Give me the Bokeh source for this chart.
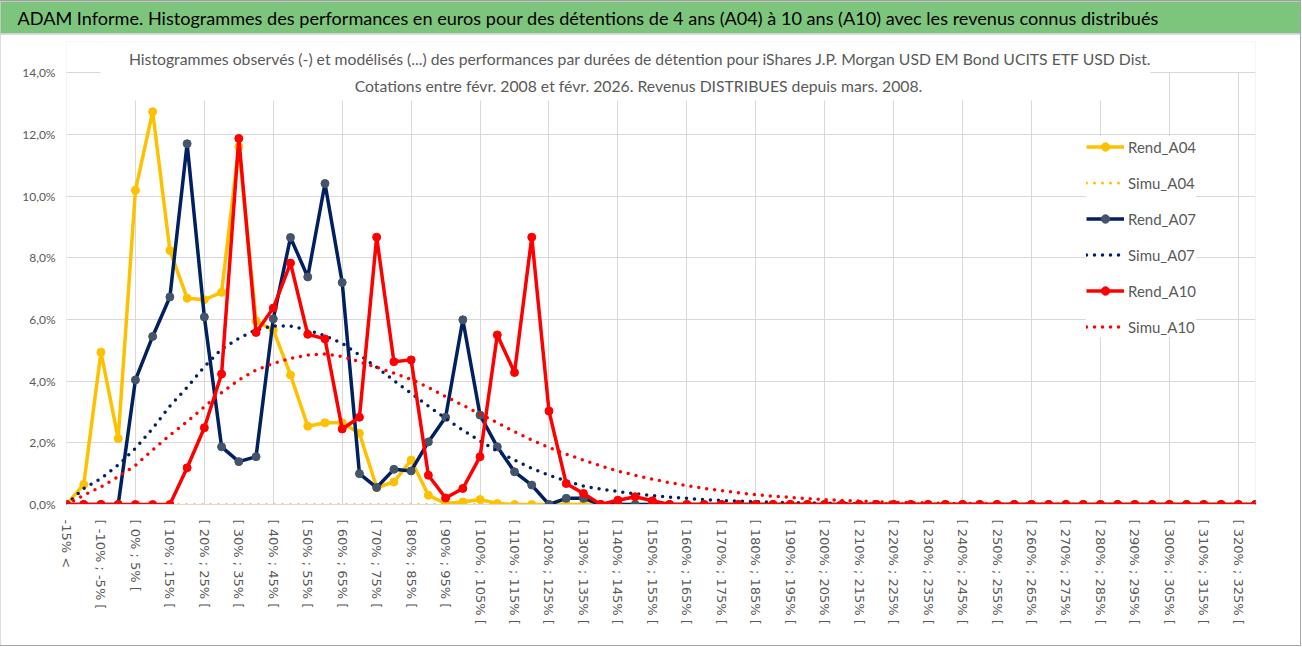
from bokeh.plotting import figure
from bokeh.layouts import column
from bokeh.models import (Label, BoxAnnotation, Legend, LegendItem, FixedTicker,
                          Range1d, ColumnDataSource, Title)
from bokeh.embed import file_html
from bokeh.resources import INLINE

# ---------------- data ----------------
categories = ["-15% <"] + ["[ %d%% ; %d%% [" % (5 * i - 20, 5 * i - 15) for i in range(1, 70)]

rend_a04 = [0.0, 0.65, 4.94, 2.14, 10.19, 12.74, 8.24, 6.69, 6.64, 6.88,
            11.6, 5.95, 5.66, 4.2, 2.54, 2.65, 2.65, 2.31, 0.55, 0.73,
            1.44, 0.3, 0.03, 0.08, 0.16, 0.03, 0, 0, 0, 0,
            0, 0, 0, 0, 0, 0, 0, 0, 0, 0,
            0, 0, 0, 0, 0, 0, 0, 0, 0, 0,
            0, 0, 0, 0, 0, 0, 0, 0, 0, 0,
            0, 0, 0, 0, 0, 0, 0, 0, 0, 0]

simu_a04 = [0.0] * 70

rend_a07 = [0, 0, 0, 0, 4.04, 5.45, 6.73, 11.7, 6.08, 1.87,
            1.39, 1.55, 6.02, 8.66, 7.38, 10.41, 7.2, 1.0, 0.55, 1.14,
            1.09, 2.03, 2.83, 5.99, 2.9, 1.87, 1.06, 0.63, 0.0, 0.2,
            0.2, 0, 0, 0, 0, 0, 0, 0, 0, 0,
            0, 0, 0, 0, 0, 0, 0, 0, 0, 0,
            0, 0, 0, 0, 0, 0, 0, 0, 0, 0,
            0, 0, 0, 0, 0, 0, 0, 0, 0, 0]

simu_a07 = [0, 0.52, 0.84, 1.28, 1.82, 2.47, 3.19, 3.8, 4.47, 5.04,
            5.39, 5.66, 5.79, 5.79, 5.66, 5.47, 5.23, 4.85, 4.45, 4.02,
            3.61, 3.19, 2.79, 2.41, 2.06, 1.73, 1.44, 1.17, 0.95, 0.76,
            0.6, 0.5, 0.42, 0.35, 0.29, 0.24, 0.2, 0.16, 0.13, 0.11,
            0.09, 0.07, 0.06, 0.05, 0.04, 0.03, 0.02, 0.02, 0.01, 0.01,
            0, 0, 0, 0, 0, 0, 0, 0, 0, 0,
            0, 0, 0, 0, 0, 0, 0, 0, 0, 0]

rend_a10 = [0, 0, 0, 0, 0, 0, 0, 1.19, 2.49, 4.23,
            11.87, 5.58, 6.37, 7.83, 5.52, 5.37, 2.45, 2.83, 8.67, 4.63,
            4.69, 0.95, 0.21, 0.52, 1.55, 5.5, 4.28, 8.67, 3.03, 0.68,
            0.36, 0.0, 0.14, 0.25, 0.12, 0, 0, 0, 0, 0,
            0, 0, 0, 0, 0, 0, 0, 0, 0, 0,
            0, 0, 0, 0, 0, 0, 0, 0, 0, 0,
            0, 0, 0, 0, 0, 0, 0, 0, 0, 0]

simu_a10 = [0, 0.3, 0.57, 0.9, 1.27, 1.77, 2.25, 2.69, 3.17, 3.63,
            4.04, 4.36, 4.58, 4.74, 4.85, 4.88, 4.8, 4.63, 4.45, 4.26,
            4.06, 3.8, 3.5, 3.22, 2.93, 2.65, 2.36, 2.09, 1.85, 1.63,
            1.44, 1.25, 1.08, 0.95, 0.82, 0.71, 0.61, 0.52, 0.45, 0.38,
            0.32, 0.27, 0.23, 0.19, 0.16, 0.13, 0.11, 0.09, 0.07, 0.06,
            0.05, 0.04, 0.03, 0.03, 0.02, 0.02, 0.01, 0.01, 0, 0,
            0, 0, 0, 0, 0, 0, 0, 0, 0, 0]

y_ticks = [0, 2, 4, 6, 8, 10, 12, 14]
y_tick_labels = ["0,0%", "2,0%", "4,0%", "6,0%", "8,0%", "10,0%", "12,0%", "14,0%"]

title_main = ("ADAM Informe. Histogrammes des performances en euros pour des détentions "
              "de 4 ans (A04) à 10 ans (A10) avec les revenus connus distribués")
subtitle_1 = ("Histogrammes observés (-) et modélisés (...) des performances par durées de "
              "détention pour iShares J.P. Morgan USD EM Bond UCITS ETF USD Dist.")
subtitle_2 = "Cotations entre févr. 2008 et févr. 2026.  Revenus DISTRIBUES depuis mars. 2008."

GRID = "#D9D9D9"
TXT = "#595959"
GREEN = "#7DC57D"
W = 1300
ML, MR = 66, 45

# ---------------- banner ----------------
BH = 32
banner = figure(width=W, height=BH, output_backend="svg", toolbar_location=None,
                x_range=Range1d(0, 1), y_range=Range1d(0, 1),
                x_axis_type=None, y_axis_type=None,
                min_border_left=ML, min_border_right=MR, min_border_top=0,
                min_border_bottom=0)
banner.title.visible = False
banner.grid.visible = False
banner.background_fill_color = GREEN
banner.border_fill_color = GREEN
banner.outline_line_color = None
banner.add_layout(Title(text=title_main, align="left", offset=17 - ML,
                        vertical_align="middle", standoff=8,
                        text_font="Lato", text_font_size="18.1px",
                        text_font_style="normal", text_color="black"), "above")

# ---------------- main figure ----------------
H = 611
MT, MB = 7, 141
FB_PAGE = 504.0          # page y of the 0 % line
FH = H - MT - MB
PX_PER_UNIT = 431.7 / 14.0
YTOP = FH / PX_PER_UNIT

x = list(range(len(categories)))
src = ColumnDataSource(dict(x=x, r04=rend_a04, s04=simu_a04, r07=rend_a07,
                            s07=simu_a07, r10=rend_a10, s10=simu_a10))

p = figure(width=W, height=H, output_backend="svg", toolbar_location=None,
           x_range=Range1d(0, len(categories) - 1), y_range=Range1d(0, YTOP),
           min_border_left=ML, min_border_right=MR, min_border_top=MT,
           min_border_bottom=MB)
p.title.visible = False
p.outline_line_color = None
p.background_fill_color = "white"
p.border_fill_color = "white"

p.xaxis.ticker = FixedTicker(ticks=list(range(0, len(categories), 2)))
p.xaxis.major_label_overrides = {i: categories[i] for i in range(0, len(categories), 2)}
p.xaxis.major_label_orientation = "vertical"
p.xaxis.major_label_text_font = "DejaVu Sans"
p.xaxis.major_label_text_font_size = "13px"
p.xaxis.major_label_text_color = TXT
p.xaxis.major_tick_line_color = None
p.xaxis.major_tick_out = 0
p.xaxis.major_tick_in = 0
p.xaxis.minor_tick_line_color = None
p.xaxis.axis_line_color = GRID
p.xaxis.major_label_standoff = 15

p.yaxis.ticker = FixedTicker(ticks=y_ticks)
p.yaxis.major_label_overrides = {t: l for t, l in zip(y_ticks, y_tick_labels)}
p.yaxis.major_label_text_font = "Lato"
p.yaxis.major_label_text_font_size = "12px"
p.yaxis.major_label_text_color = TXT
p.yaxis.major_tick_line_color = None
p.yaxis.major_tick_out = 0
p.yaxis.major_tick_in = 0
p.yaxis.minor_tick_line_color = None
p.yaxis.axis_line_color = None
p.yaxis.major_label_standoff = 11

p.xgrid.ticker = FixedTicker(ticks=list(range(0, len(categories), 4)))
p.xgrid.grid_line_color = GRID
p.ygrid.grid_line_color = GRID

YEL, NAVY, NAVYM, RED = "#FFC000", "#002060", "#44546A", "#FF0000"
LW = 3.5

l04 = p.line("x", "r04", source=src, line_color=YEL, line_width=LW, line_join="round")
m04 = p.scatter("x", "r04", source=src, size=8, color=YEL)
d04 = p.line("x", "s04", source=src, line_color=YEL, line_width=3, line_dash="0 8",
             line_cap="round")
l07 = p.line("x", "r07", source=src, line_color=NAVY, line_width=LW, line_join="round")
m07 = p.scatter("x", "r07", source=src, size=8, color=NAVYM)
d07 = p.line("x", "s07", source=src, line_color=NAVY, line_width=3.5, line_dash="0 8",
             line_cap="round")
l10 = p.line("x", "r10", source=src, line_color=RED, line_width=LW, line_join="round")
m10 = p.scatter("x", "r10", source=src, size=8, color=RED)
d10 = p.line("x", "s10", source=src, line_color=RED, line_width=3.5, line_dash="0 8",
             line_cap="round")

# white areas: above the 14% line, and behind the chart title
p.add_layout(BoxAnnotation(bottom=14.03, fill_color="white", fill_alpha=1.0,
                           line_color=None))
p.add_layout(BoxAnnotation(left=1.97, right=62.9, bottom=(FB_PAGE - 100) / PX_PER_UNIT,
                           fill_color="white", fill_alpha=1.0, line_color=None))

p.add_layout(Label(x=574, y=FB_PAGE - 58, x_units="screen", y_units="screen",
                   text=subtitle_1, text_font="Lato", text_font_size="15.75px",
                   text_color=TXT, text_baseline="middle", text_align="center"))
p.add_layout(Label(x=574, y=FB_PAGE - 85, x_units="screen", y_units="screen",
                   text=subtitle_2, text_font="Lato", text_font_size="15.75px",
                   text_color=TXT, text_baseline="middle", text_align="center"))

legend = Legend(items=[
    LegendItem(label="Rend_A04", renderers=[l04, m04]),
    LegendItem(label="Simu_A04", renderers=[d04]),
    LegendItem(label="Rend_A07", renderers=[l07, m07]),
    LegendItem(label="Simu_A07", renderers=[d07]),
    LegendItem(label="Rend_A10", renderers=[l10, m10]),
    LegendItem(label="Simu_A10", renderers=[d10]),
], location=(1020, 167))
legend.background_fill_color = "white"
legend.background_fill_alpha = 1.0
legend.border_line_color = None
legend.label_text_font = "Lato"
legend.label_text_font_size = "15px"
legend.label_text_color = TXT
legend.glyph_width = 38
legend.glyph_height = 21
legend.label_height = 21
legend.spacing = 15
legend.padding = 10
legend.margin = 0
legend.label_standoff = 4
p.add_layout(legend, "center")

layout = column(banner, p, spacing=1,
                styles={"background-color": "#D0D0D0",
                        "border-top": "1px solid #A0A0A0",
                        "border-right": "1px solid #A6A6A6",
                        "border-bottom": "1px solid #A6A6A6"})

open("out.html", "w").write(file_html(layout, INLINE))
